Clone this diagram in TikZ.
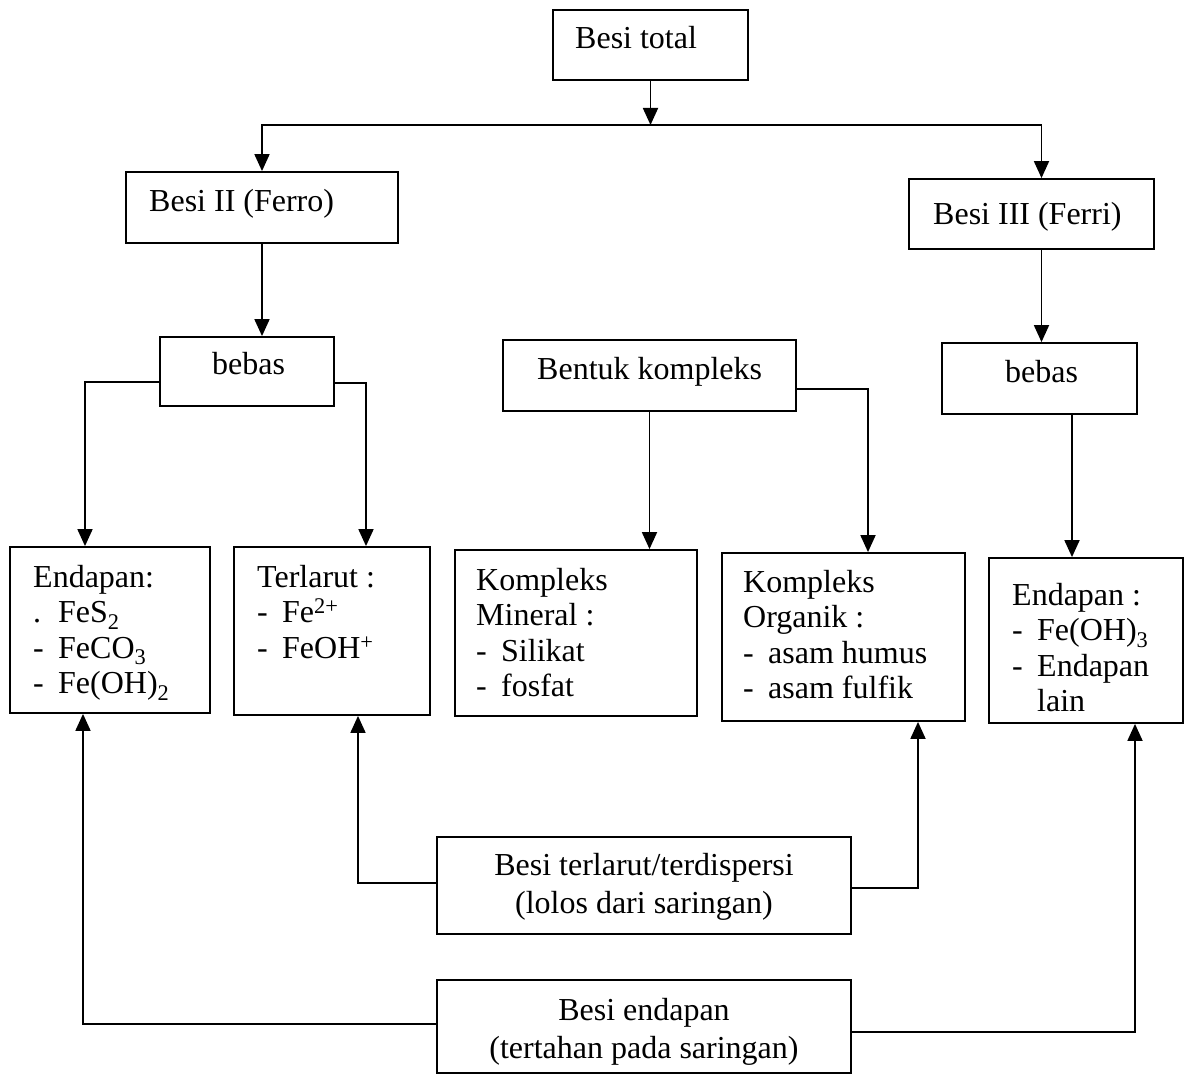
\documentclass[tikz,border=0pt]{standalone}
\usepackage{fontspec}
\setmainfont{Liberation Serif}
\usetikzlibrary{arrows.meta,fit}
\newcommand\itm[1]{\makebox[25pt][l]{#1}}
\begin{document}
\begin{tikzpicture}[x=1pt,y=-1pt,
  box/.style={draw, line width=1.8pt, inner sep=0pt, rectangle},
  lbl/.style={inner sep=0pt, font=\fontsize{32}{35.5}\selectfont, align=left},
  clbl/.style={inner sep=0pt, font=\fontsize{32}{38}\selectfont, align=center},
  arr/.style={line width=1.8pt, -{Triangle[length=17pt,width=15pt]}}]
\useasboundingbox[fill=white] (0,0) rectangle (1187,1075);

% boxes
\node[box, fit={(553,10) (748,80)}] (tot) {};
\node[box, fit={(126,172) (398,243)}] (b2) {};
\node[box, fit={(909,179) (1154,249)}] (b3) {};
\node[box, fit={(160,337) (334,406)}] (bebL) {};
\node[box, fit={(503,340) (796,411)}] (bk) {};
\node[box, fit={(942,343) (1137,414)}] (bebR) {};
\node[box, fit={(10,547) (210,713)}] (endL) {};
\node[box, fit={(234,547) (430,715)}] (terl) {};
\node[box, fit={(455,550) (697,716)}] (mine) {};
\node[box, fit={(722,553) (965,721)}] (org) {};
\node[box, fit={(989,558) (1183,723)}] (endR) {};
\node[box, fit={(437,837) (851,934)}] (bt) {};
\node[box, fit={(437,980) (851,1073)}] (be) {};

% texts
\node[lbl, anchor=base west] (tot-t) at (575,49) {Besi total};
\node[lbl, anchor=base west] (b2-t) at (149,212) {Besi II (Ferro)};
\node[lbl, anchor=base west] (b3-t) at (933,225) {Besi III (Ferri)};
\node[lbl, anchor=base west] (bebL-t) at (212,375) {bebas};
\node[lbl, anchor=base west] (bk-t) at (537,380) {Bentuk kompleks};
\node[lbl, anchor=base west] (bebR-t) at (1005,383) {bebas};
\node[lbl, anchor=north west] (endL-t) at (33,565) {Endapan:\\\itm{.}FeS\textsubscript{2}\\\itm{-}FeCO\textsubscript{3}\\\itm{-}Fe(OH)\textsubscript{2}};
\node[lbl, anchor=north west] (terl-t) at (257,565) {Terlarut :\\\itm{-}Fe\textsuperscript{2+}\\\itm{-}FeOH\textsuperscript{+}};
\node[lbl, anchor=north west] (mine-t) at (476,568) {Kompleks\\Mineral :\\\itm{-}Silikat\\\itm{-}fosfat};
\node[lbl, anchor=north west] (org-t) at (743,570) {Kompleks\\Organik :\\\itm{-}asam humus\\\itm{-}asam fulfik};
\node[lbl, anchor=north west] (endR-t) at (1012,583) {Endapan :\\\itm{-}Fe(OH)\textsubscript{3}\\\itm{-}Endapan\\\itm{}lain};
\node[clbl, anchor=north] (bt-t) at (644,853) {Besi terlarut/terdispersi\\(lolos dari saringan)};
\node[clbl, anchor=north] (be-t) at (644,998) {Besi endapan\\(tertahan pada saringan)};

% connectors
\coordinate (split) at (650.5,125);
\draw[arr] (tot) -- (split);
\draw[arr] (split) -| (b2.north);
\coordinate (b3n) at ([xshift=10pt]b3.north);
\draw[arr] (split) -| (b3n);
\draw[arr] (b2.south) -- (b2.south |- bebL.north);
\coordinate (b3s) at ([xshift=10pt]b3.south);
\draw[arr] (b3s) -- (b3s |- bebR.north);
\coordinate (bLw) at ([yshift=-10.5pt]bebL.west);
\coordinate (eLn) at ([xshift=-25pt]endL.north);
\draw[arr] (bLw) -| (eLn);
\coordinate (bLe) at ([yshift=-11.5pt]bebL.east);
\coordinate (tn) at ([xshift=34pt]terl.north);
\draw[arr] (bLe) -| (tn);
\draw[arr] (bk.south) -- (bk.south |- mine.north);
\coordinate (bke) at ([yshift=-13.5pt]bk.east);
\coordinate (on) at ([xshift=24.5pt]org.north);
\draw[arr] (bke) -| (on);
\coordinate (bRs) at ([xshift=32.5pt]bebR.south);
\draw[arr] (bRs) -- (bRs |- endR.north);
\coordinate (btw) at ([yshift=2.5pt]bt.west);
\coordinate (ts) at ([xshift=26pt]terl.south);
\draw[arr] (btw) -| (ts);
\coordinate (bte) at ([yshift=-2.5pt]bt.east);
\coordinate (os) at ([xshift=74.5pt]org.south);
\draw[arr] (bte) -| (os);
\coordinate (bew) at ([yshift=2.5pt]be.west);
\coordinate (eLs) at ([xshift=-27pt]endL.south);
\draw[arr] (bew) -| (eLs);
\coordinate (bee) at ([yshift=-5.5pt]be.east);
\coordinate (eRs) at ([xshift=49pt]endR.south);
\draw[arr] (bee) -| (eRs);
\end{tikzpicture}
\end{document}
